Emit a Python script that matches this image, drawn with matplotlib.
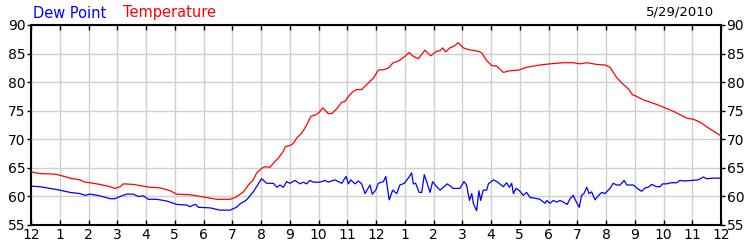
import matplotlib
matplotlib.use("Agg")
import matplotlib.pyplot as plt

temp_hours = [0, 0.31, 0.84, 1.01, 1.36, 1.70, 1.88, 2.05, 2.40, 2.75,
              2.92, 3.10, 3.21, 3.56, 3.79, 4.14, 4.49, 4.84, 5.07, 5.53,
              6.0, 6.46, 6.92, 7.10, 7.39, 7.56, 7.73, 7.85, 8.02, 8.14,
              8.31, 8.43, 8.60, 8.78, 8.84, 9.01, 9.13, 9.24, 9.42, 9.59,
              9.73, 9.91, 10.0, 10.15, 10.34, 10.46, 10.63, 10.81, 10.92, 11.04,
              11.21, 11.33, 11.50, 11.68, 11.91, 12.08, 12.28, 12.43, 12.60, 12.78,
              13.01, 13.15, 13.30, 13.47, 13.70, 13.90, 14.11, 14.23, 14.32, 14.42,
              14.57, 14.72, 14.86, 15.04, 15.21, 15.56, 15.68, 15.83, 16.02, 16.20,
              16.43, 16.66, 16.95, 17.24, 17.70, 18.05, 18.52, 18.86, 19.10, 19.33,
              19.68, 19.97, 20.14, 20.37, 20.60, 20.78, 20.92, 21.07, 21.30, 21.76,
              22.34, 22.81, 23.04, 23.27, 23.62, 24.0]
temp_values = [64.3, 64.0, 63.9, 63.7, 63.2, 62.9, 62.5, 62.4, 62.1, 61.7,
               61.4, 61.7, 62.2, 62.1, 61.9, 61.6, 61.5, 61.0, 60.4, 60.3,
               59.9, 59.5, 59.5, 59.8, 60.8, 62.0, 62.9, 64.1, 64.9, 65.2,
               65.1, 65.8, 66.7, 67.9, 68.7, 68.9, 69.3, 70.2, 71.1, 72.5,
               74.0, 74.3, 74.6, 75.5, 74.5, 74.5, 75.3, 76.5, 76.6, 77.5,
               78.4, 78.7, 78.7, 79.6, 80.7, 82.1, 82.2, 82.5, 83.4, 83.7,
               84.5, 85.2, 84.5, 84.1, 85.6, 84.6, 85.4, 85.5, 86.0, 85.3,
               86.0, 86.3, 86.9, 86.0, 85.7, 85.4, 85.1, 83.9, 82.9, 82.8,
               81.7, 82.0, 82.1, 82.6, 83.0, 83.2, 83.4, 83.4, 83.2, 83.4,
               83.1, 83.0, 82.6, 80.8, 79.6, 78.8, 77.8, 77.5, 76.9, 76.1,
               74.9, 73.7, 73.5, 73.0, 71.8, 70.6]

dew_hours = [0, 0.31, 0.66, 1.01, 1.36, 1.70, 1.88, 2.05, 2.40, 2.75,
             2.92, 3.10, 3.33, 3.56, 3.73, 3.91, 4.08, 4.37, 4.72, 5.07,
             5.41, 5.53, 5.65, 5.73, 5.82, 6.23, 6.57, 6.92, 7.15, 7.27,
             7.50, 7.73, 8.02, 8.20, 8.43, 8.55, 8.66, 8.78, 8.89, 9.01,
             9.18, 9.36, 9.47, 9.59, 9.70, 9.82, 10.05, 10.23, 10.34, 10.57,
             10.81, 10.96, 11.04, 11.12, 11.27, 11.39, 11.50, 11.62, 11.79, 11.87,
             11.99, 12.08, 12.26, 12.34, 12.46, 12.58, 12.72, 12.83, 12.99, 13.12,
             13.24, 13.30, 13.38, 13.50, 13.59, 13.68, 13.76, 13.88, 13.97, 14.11,
             14.23, 14.48, 14.69, 14.92, 15.06, 15.15, 15.25, 15.33, 15.39, 15.50,
             15.58, 15.64, 15.73, 15.85, 15.91, 16.08, 16.20, 16.43, 16.54, 16.64,
             16.72, 16.78, 16.87, 16.99, 17.12, 17.24, 17.36, 17.53, 17.70, 17.88,
             17.94, 18.05, 18.17, 18.28, 18.40, 18.52, 18.65, 18.75, 18.86, 18.94,
             19.07, 19.15, 19.23, 19.33, 19.41, 19.50, 19.62, 19.73, 19.85, 19.96,
             20.14, 20.25, 20.37, 20.49, 20.63, 20.72, 20.95, 21.09, 21.24, 21.36,
             21.47, 21.59, 21.76, 21.88, 21.97, 22.11, 22.28, 22.46, 22.57, 22.75,
             22.98, 23.21, 23.39, 23.50, 23.73, 24.0]
dew_values = [61.8, 61.7, 61.4, 61.1, 60.7, 60.5, 60.2, 60.4, 60.1, 59.6,
              59.6, 60.0, 60.4, 60.4, 60.0, 60.1, 59.5, 59.5, 59.2, 58.6,
              58.5, 58.2, 58.5, 58.6, 58.1, 58.0, 57.6, 57.6, 58.1, 58.7,
              59.4, 60.8, 63.1, 62.3, 62.3, 61.6, 62.0, 61.6, 62.6, 62.3,
              62.8, 62.2, 62.5, 62.2, 62.8, 62.5, 62.5, 62.8, 62.5, 62.9,
              62.3, 63.5, 62.2, 62.9, 62.2, 62.7, 62.2, 60.5, 62.0, 60.4,
              61.1, 62.3, 62.6, 63.5, 59.4, 61.1, 60.5, 62.0, 62.3, 63.2,
              64.1, 62.2, 62.3, 60.7, 60.7, 63.8, 62.6, 60.7, 62.6, 61.7,
              61.1, 62.2, 61.4, 61.4, 62.6, 62.0, 59.3, 60.5, 58.7, 57.5,
              61.0, 59.3, 61.1, 61.1, 62.2, 62.9, 62.6, 61.7, 62.4, 61.6,
              62.3, 60.5, 61.4, 61.0, 60.2, 60.7, 59.8, 59.7, 59.5, 58.8,
              59.3, 58.8, 59.3, 59.0, 59.3, 59.0, 58.6, 59.6, 60.2, 59.3,
              58.1, 60.2, 60.5, 61.6, 60.5, 60.8, 59.4, 60.1, 60.7, 60.5,
              61.4, 62.3, 62.0, 62.0, 62.8, 62.0, 62.0, 61.4, 60.9, 61.5,
              61.6, 62.1, 61.7, 61.7, 62.2, 62.2, 62.4, 62.4, 62.8, 62.7,
              62.8, 62.9, 63.4, 63.1, 63.2, 63.2]

x_ticks = list(range(0, 25))
x_labels = ['12', '1', '2', '3', '4', '5', '6', '7', '8', '9', '10', '11',
            '12', '1', '2', '3', '4', '5', '6', '7', '8', '9', '10', '11', '12']
y_ticks = [55, 60, 65, 70, 75, 80, 85, 90]

plt.rcParams['font.family'] = ['DejaVu Sans']

fig = plt.figure(figsize=(7.5, 2.5), dpi=100)
ax = fig.add_axes([31/750, 25/250, 690/750, 200/250])

ax.plot(dew_hours, dew_values, color='#0000ff', lw=0.9, zorder=3)
ax.plot(temp_hours, temp_values, color='#ff0000', lw=0.9, zorder=3)

ax.set_xlim(0, 24)
ax.set_ylim(55, 90)
ax.set_xticks(x_ticks)
ax.set_xticklabels(x_labels)
ax.set_yticks(y_ticks)
ax.grid(True, color='#d0d0d0', lw=1.0, zorder=0)
ax.set_axisbelow(True)

for s in ax.spines.values():
    s.set_linewidth(1.5)
    s.set_color('black')

ax.tick_params(axis='x', direction='in', top=True, bottom=True, length=3.5,
               width=1, labelsize=10, pad=2)
ax.tick_params(axis='y', direction='out', left=True, right=True,
               labelleft=True, labelright=True, length=3, width=1,
               labelsize=10, pad=1)

fig.text(33/750, 1 - 13/250, 'Dew Point', color='#0000ff', fontsize=10.5,
         ha='left', va='center')
fig.text(123/750, 1 - 13/250, 'Temperature', color='#ff0000', fontsize=10.5,
         ha='left', va='center')
fig.text(714/750, 1 - 12/250, '5/29/2010', color='#000000', fontsize=9.5,
         ha='right', va='center')

fig.savefig('out.png', dpi=100)
